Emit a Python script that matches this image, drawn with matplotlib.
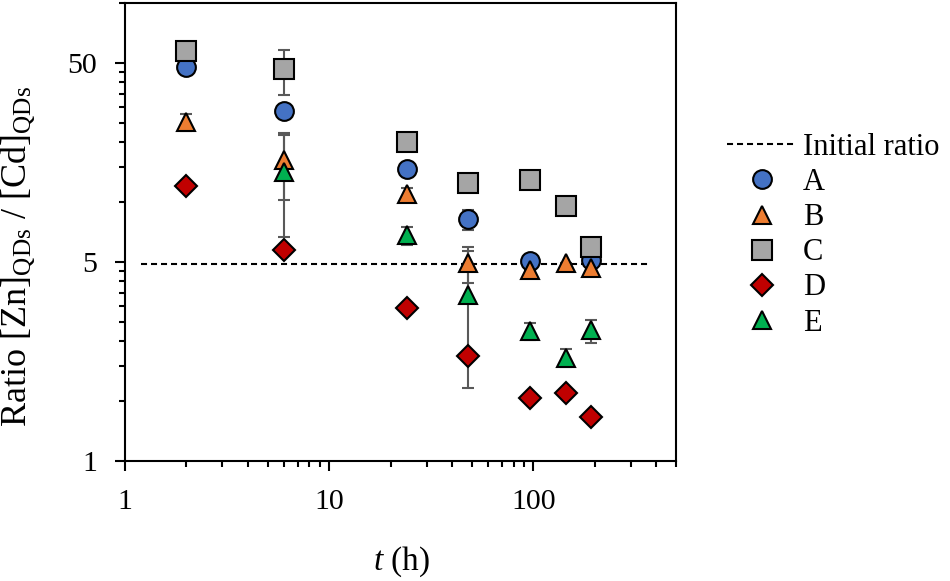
import numpy as np
import matplotlib
matplotlib.use("Agg")
import matplotlib.pyplot as plt
from matplotlib.ticker import FixedLocator, NullFormatter

plt.rcParams['font.family'] = ['Liberation Serif', 'DejaVu Serif']
plt.rcParams['mathtext.fontset'] = 'custom'
plt.rcParams['mathtext.rm'] = 'Liberation Serif'
plt.rcParams['mathtext.it'] = 'Liberation Serif:italic'

# ---- data ----
t = [2, 6, 24, 48, 96, 144, 192]
A = [48.0, 28.8, 14.7, 8.2, 5.06, np.nan, 5.1]
A_err = [0, 0, 0, 0.95, 0, 0, 0]
B = [25.2, 16.3, 11.0, 4.92, 4.56, 4.96, 4.67]
B_err = [2.5, 6.0, 0.8, 1.0, 0, 0, 0]
C = [57.4, 46.5, 20.1, 12.5, 12.85, 9.53, 5.92]
C_err = [0, 12.0, 0, 0.5, 0, 0, 0]
D = [12.0, 5.74, 2.93, 1.68, 1.04, 1.10, 0.83]
D_err = [0, 0, 0, 0, 0, 0, 0]
E = [np.nan, 14.2, 6.82, 3.42, 2.24, 1.65, 2.27]
E_err = [0, 7.5, 0.7, 2.25, 0.22, 0.17, 0.3]
initial_x = [1.2, 365]
initial_ratio = [4.9, 4.9]

series = [
    ("A", A, A_err, 'o', '#4472C4', 13.5),
    ("B", B, B_err, '^', '#ED7D31', 13.5),
    ("C", C, C_err, 's', '#A5A5A5', 14),
    ("D", D, D_err, 'D', '#C00000', 11),
    ("E", E, E_err, '^', '#00B050', 13.5),
]

fig = plt.figure(figsize=(9.5, 5.81), dpi=100)
ax = fig.add_axes([0.1316, 0.2065, 0.58, 0.788])

line0, = ax.plot(initial_x, initial_ratio, color='black', lw=1.5,
                 linestyle=(0, (2.9, 1.9)), label='Initial ratio', zorder=2)

handles = [line0]
for name, y, err, m, c, ms in series:
    ax.errorbar(t, y, yerr=err, fmt='none', ecolor='#595959', elinewidth=1.5,
                capsize=4, capthick=1.5, zorder=3)
    h, = ax.plot(t, y, linestyle='none', marker=m, markersize=ms,
                 markerfacecolor=c, markeredgecolor='black', markeredgewidth=1.5,
                 label=name, zorder=4)
    handles.append(h)

ax.set_xscale('log')
ax.set_yscale('log')
ax.set_xlim(1, 500)
ax.set_ylim(0.5, 100)

ax.xaxis.set_major_locator(FixedLocator([1, 10, 100]))
ax.set_xticklabels(['1', '10', '100'])
xminor = [k * 10 ** e for e in range(0, 3) for k in range(2, 10)]
xminor = [v for v in xminor if v <= 500]
ax.xaxis.set_minor_locator(FixedLocator(xminor))
ax.xaxis.set_minor_formatter(NullFormatter())

ax.yaxis.set_major_locator(FixedLocator([0.5, 5, 50]))
ax.set_yticklabels(['1', '5', '50'])
yminor = [k * 0.5 * 10 ** e for e in range(0, 3) for k in range(2, 10)]
yminor = [v for v in yminor if v <= 100]
ax.yaxis.set_minor_locator(FixedLocator(yminor))
ax.yaxis.set_minor_formatter(NullFormatter())

for s in ax.spines.values():
    s.set_linewidth(1.5)
ax.tick_params(which='major', direction='out', length=7, width=1.5,
               labelsize=21.5, pad=13)
ax.tick_params(which='minor', direction='out', length=4, width=1.5)

fig.text(402 / 950, 1 - 562 / 581, r'$\mathit{t}$ (h)', fontsize=24,
         ha='center', va='center')
fig.text(18 / 950, 1 - 256 / 581,
         r'Ratio [Zn]$_{\mathrm{QDs}}$ / [Cd]$_{\mathrm{QDs}}$', fontsize=26,
         rotation=90, ha='center', va='center')

leg = fig.legend(handles=handles, loc='upper left',
                 bbox_to_anchor=(727 / 950, 1 - 133 / 581),
                 frameon=False, fontsize=22, handlelength=2.29,
                 handletextpad=0.2, labelspacing=0.2, borderpad=0,
                 borderaxespad=0)

fig.savefig('out.png', dpi=100)
